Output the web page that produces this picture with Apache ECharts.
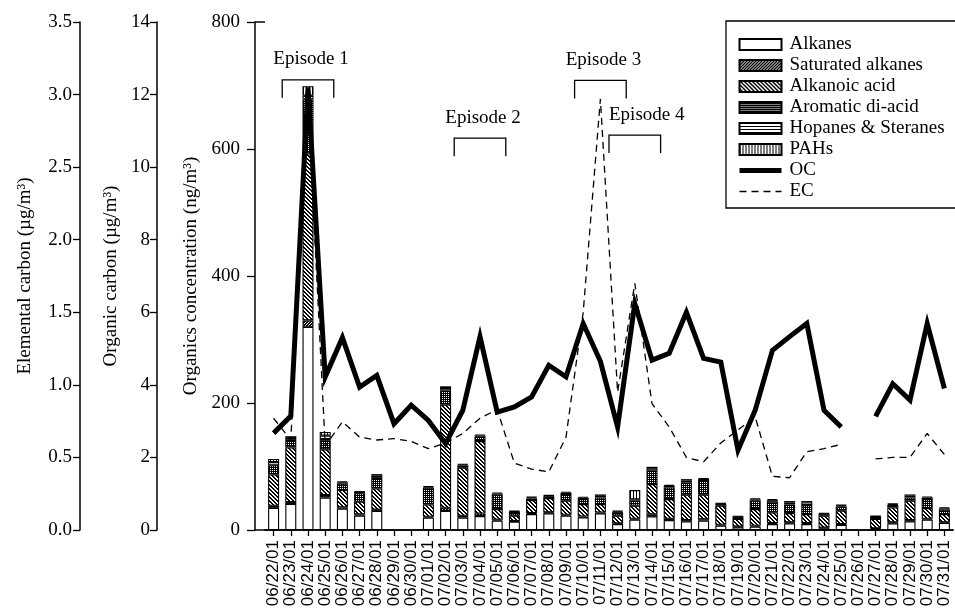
<!DOCTYPE html>
<html>
<head>
<meta charset="utf-8">
<script src="https://cdn.jsdelivr.net/npm/echarts@6/dist/echarts.min.js"></script>
<style>
  html, body { margin: 0; padding: 0; background: #fff; }
  #chart { width: 955px; height: 610px; }
</style>
</head>
<body>
<div id="chart"></div>
<script>
// Sampling days (one 24-h sample per day)
const days = [
  '06/22/01', '06/23/01', '06/24/01', '06/25/01', '06/26/01', '06/27/01', '06/28/01', '06/29/01', '06/30/01',
  '07/01/01', '07/02/01', '07/03/01', '07/04/01', '07/05/01', '07/06/01', '07/07/01', '07/08/01', '07/09/01',
  '07/10/01', '07/11/01', '07/12/01', '07/13/01', '07/14/01', '07/15/01', '07/16/01', '07/17/01', '07/18/01',
  '07/19/01', '07/20/01', '07/21/01', '07/22/01', '07/23/01', '07/24/01', '07/25/01', '07/26/01', '07/27/01',
  '07/28/01', '07/29/01', '07/30/01', '07/31/01'
];

// Organic compound classes, ng/m3 (null = no sample)
const alkanes = [35, 41, 320, 51, 33.5, 22.5, 30, null, null,
  19.4, 30, 19.4, 22, 14.7, 13.1, 25.1, 26.2, 22.5,
  19.9, 26.2, 9.4, 16.2, 21.5, 15.7, 13.6, 14.7, 6.8,
  4.2, 5.2, 9.4, 10.5, 9.4, 2.6, 7.9, null, 1.6,
  10.5, 13.6, 16.2, 11];
const saturatedAlkanes = [3, 3, 10, 4, 2, 2, 2, null, null,
  1.5, 5, 3, 4, 1.5, 1, 1.5, 1.5, 1.5,
  1.2, 1.2, 1, 1.5, 3, 2, 2, 2, 1.5,
  1, 1.5, 1.5, 1.5, 1.5, 1, 1.2, null, 1,
  1.5, 2, 1.5, 1];
const alkanoicAcid = [49.5, 86, 263, 72, 27.5, 20, 33.5, null, null,
  19.4, 162.5, 75.6, 114, 16.8, 8.4, 20.5, 22.6, 22.1,
  19.8, 13.5, 12.1, 20.5, 47.8, 31, 39.9, 38.8, 29.9,
  12.1, 26.3, 16.9, 14.7, 14.2, 18.9, 21.3, null, 14.7,
  23.6, 30.5, 16.9, 13.1];
const aromaticDiacid = [14.5, 12, 85, 14.5, 10, 13.5, 16.7, null, null,
  26.2, 22, 3.5, 6.8, 22.5, 5.8, 2.5, 2.5, 10.5,
  7.8, 10.4, 5.3, 7.9, 20.9, 18.3, 19.4, 23.1, 2.5,
  3, 13.1, 16.7, 13.6, 14.2, 2.5, 6.8, null, 3.5,
  3.7, 5.2, 14.1, 6.9];
const hopanesSteranes = [5, 3, 6, 7, 2, 2, 3.5, null, null,
  1.5, 4, 1.5, 2, 2, 1.2, 1.5, 1.2, 2,
  2, 2.5, 1.5, 2, 4, 2.5, 3, 1.8, 1,
  1, 2, 2.5, 3, 4, 1, 1.5, null, 1,
  1.5, 2.7, 2.5, 2];
const pahs = [5, 2.7, 15, 6, 1.5, 1.3, 2.3, null, null,
  1.1, 2.8, 1.2, 1.5, 1.7, 0.9, 1.3, 1, 1.6,
  1.7, 2.2, 1.1, 14.8, 2.3, 1.7, 2.2, 1.3, 0.7,
  0.7, 1.7, 1.7, 2.3, 2.3, 0.7, 1.1, null, 0.7,
  1.1, 2, 1.7, 1.6];

// Organic and elemental carbon, µg/m3
const ocValues = [2.67, 3.14, 12.2, 4.22, 5.3, 3.94, 4.26, 2.93, 3.44,
  3.02, 2.38, 3.3, 5.33, 3.25, 3.39, 3.67, 4.54, 4.22,
  5.69, 4.65, 2.84, 6.24, 4.68, 4.87, 6.0, 4.73, 4.63,
  2.2, 3.3, 4.95, 5.33, 5.69, 3.3, 2.84, null, 3.13,
  4.03, 3.58, 5.69, 3.9];
const ecValues = [0.77, 0.62, 2.95, 0.58, 0.745, 0.64, 0.62, 0.63, 0.61,
  0.56, 0.6, 0.665, 0.77, 0.83, 0.46, 0.42, 0.4, 0.64,
  1.5, 2.97, 0.95, 1.7, 0.87, 0.71, 0.5, 0.47, 0.6,
  0.69, 0.78, 0.37, 0.36, 0.54, 0.56, 0.59, null, 0.49,
  0.5, 0.5, 0.665, 0.52];

// Pollution episodes marked above the bars (level in ng/m3)
const episodes = [
  { label: 'Episode 1', from: '06/23/01', to: '06/25/01', level: 709 },
  { label: 'Episode 2', from: '07/03/01', to: '07/05/01', level: 617 },
  { label: 'Episode 3', from: '07/10/01', to: '07/12/01', level: 708 },
  { label: 'Episode 4', from: '07/12/01', to: '07/14/01', level: 622 }
];

// ---- layout and styling ----
const SERIF = '"Liberation Serif", "Times New Roman", Times, serif';
const SANS = '"Liberation Sans", Arial, Helvetica, sans-serif';
const W = 955, H = 610;
const GRID = { left: 265, right: 2, top: 22, bottom: 80 };
const MAIN_AXIS_OFFSET = 10;
const AXIS_LINE = { show: true, lineStyle: { color: '#000', width: 1.5 } };
const EPISODE_TEXT_ALIGN = { 'Episode 4': 'left' };
const LEGEND_BOX = { left: 726, top: 21, height: 187 };

// Small repeating fill tiles for the hatched bar segments
function hatch(w, h, ink) {
  const c = document.createElement('canvas');
  c.width = w; c.height = h;
  const ctx = c.getContext('2d');
  ctx.fillStyle = '#fff';
  ctx.fillRect(0, 0, w, h);
  const img = ctx.getImageData(0, 0, w, h);
  for (let y = 0; y < h; y++) {
    for (let x = 0; x < w; x++) {
      if (ink(x, y)) {
        const i = (y * w + x) * 4;
        img.data[i] = img.data[i + 1] = img.data[i + 2] = 0;
      }
    }
  }
  ctx.putImageData(img, 0, 0);
  return { image: c, repeat: 'repeat' };
}
const fills = {
  alkanes: '#fff',
  saturated: hatch(3, 3, (x, y) => (x + y) % 3 !== 0),          // dense '/'
  alkanoic: hatch(4, 4, (x, y) => ((x - y + 4) % 4) < 2),        // '\'
  aromatic: hatch(2, 2, (x, y) => !(x === 0 && y === 0)),        // dark stipple
  hopanes: hatch(4, 3, (x, y) => y === 0),                       // horizontal rules
  pahs: hatch(3, 4, (x, y) => x === 0)                           // vertical rules
};

function barSeries(name, data, fill) {
  return {
    name, type: 'bar', stack: 'organics', data,
    xAxisIndex: 0, yAxisIndex: 0, barWidth: 11,
    itemStyle: { color: fill, borderColor: '#000', borderWidth: 1.1 },
    emphasis: { disabled: true }, z: 2
  };
}

function sideAxis(opts) {
  return Object.assign({
    type: 'value', position: 'left', nameLocation: 'middle', nameRotate: 90,
    nameTextStyle: { fontFamily: SERIF, fontSize: 19, color: '#000' },
    axisLine: AXIS_LINE,
    axisTick: { show: true, inside: false, length: 7, lineStyle: { color: '#000', width: 1.3 } },
    axisLabel: { fontFamily: SERIF, fontSize: 19, color: '#000' },
    splitLine: { show: false }
  }, opts);
}

const chart = echarts.init(document.getElementById('chart'), null, { renderer: 'canvas' });

const option = {
  animation: false,
  backgroundColor: '#fff',
  grid: Object.assign({ containLabel: false, outerBoundsMode: 'none' }, GRID),
  legend: {
    orient: 'vertical', left: LEGEND_BOX.left, top: LEGEND_BOX.top,
    padding: [14, 10, 8, 11],
    itemWidth: 42, itemHeight: 11, itemGap: 2,
    selectedMode: false,
    textStyle: { fontFamily: SERIF, fontSize: 19, color: '#000', lineHeight: 16, padding: [0, 0, 0, 3] },
    data: [
      { name: 'Alkanes', icon: 'rect' },
      { name: 'Saturated alkanes', icon: 'rect' },
      { name: 'Alkanoic acid', icon: 'rect' },
      { name: 'Aromatic di-acid', icon: 'rect' },
      { name: 'Hopanes & Steranes', icon: 'rect' },
      { name: 'PAHs', icon: 'rect' },
      { name: 'OC', itemStyle: { opacity: 0 }, lineStyle: { color: '#000', width: 5 } },
      { name: 'EC', itemStyle: { opacity: 0 }, lineStyle: { color: '#000', width: 1.3, type: [7, 5] } }
    ],
    z: 10
  },
  xAxis: [
    {
      type: 'category', data: days, position: 'bottom', boundaryGap: true,
      axisLine: AXIS_LINE,
      axisTick: { show: true, alignWithLabel: true, length: 6, lineStyle: { color: '#000', width: 1.3 } },
      axisLabel: { interval: 0, rotate: 90, margin: 10, fontFamily: SANS, fontSize: 17, color: '#000' },
      splitLine: { show: false }
    },
    {
      type: 'category', data: days, position: 'top', boundaryGap: true,
      axisLine: AXIS_LINE, axisTick: { show: false }, axisLabel: { show: false }, splitLine: { show: false }
    }
  ],
  yAxis: [
    sideAxis({
      min: 0, max: 800, interval: 200, offset: MAIN_AXIS_OFFSET,
      name: 'Organics concentration (ng/m³)', nameGap: 54,
      axisTick: { show: true, length: 8, lineStyle: { color: '#000', width: 1.3 } },
      axisLabel: { fontFamily: SERIF, fontSize: 19, color: '#000', margin: 15 }
    }),
    sideAxis({
      min: 0, max: 14, interval: 2, offset: 108,
      name: 'Organic carbon (µg/m³)', nameGap: 31,
      axisLabel: { fontFamily: SERIF, fontSize: 19, color: '#000', margin: 7 }
    }),
    sideAxis({
      min: 0, max: 3.5, interval: 0.5, offset: 185,
      name: 'Elemental carbon (µg/m³)', nameGap: 45,
      axisLabel: { fontFamily: SERIF, fontSize: 19, color: '#000', margin: 8, formatter: v => v.toFixed(1) }
    })
  ],
  series: [
    barSeries('Alkanes', alkanes, fills.alkanes),
    barSeries('Saturated alkanes', saturatedAlkanes, fills.saturated),
    barSeries('Alkanoic acid', alkanoicAcid, fills.alkanoic),
    barSeries('Aromatic di-acid', aromaticDiacid, fills.aromatic),
    barSeries('Hopanes & Steranes', hopanesSteranes, fills.hopanes),
    barSeries('PAHs', pahs, fills.pahs),
    {
      name: 'OC', type: 'line', data: ocValues, xAxisIndex: 0, yAxisIndex: 1,
      symbol: 'none', connectNulls: false,
      lineStyle: { color: '#000', width: 5, join: 'miter' },
      itemStyle: { color: '#000' }, emphasis: { disabled: true }, z: 5
    },
    {
      name: 'EC', type: 'line', data: ecValues, xAxisIndex: 0, yAxisIndex: 2,
      symbol: 'none', connectNulls: false,
      lineStyle: { color: '#000', width: 1.3, type: [7, 5] },
      itemStyle: { color: '#000' }, emphasis: { disabled: true }, z: 4
    },
    {
      name: 'episodes', type: 'custom', xAxisIndex: 0, yAxisIndex: 0, silent: true, z: 6,
      data: episodes.map(e => [days.indexOf(e.from), days.indexOf(e.to), e.level]),
      encode: { x: [0, 1], y: 2 },
      renderItem(params, api) {
        const ep = episodes[params.dataIndex];
        const band = api.size([1, 0])[0];
        const a = api.coord([api.value(0), api.value(2)]);
        const b = api.coord([api.value(1), api.value(2)]);
        const x0 = a[0] - band / 2, x1 = b[0] + band / 2, y = a[1];
        const leg = 18;
        const align = EPISODE_TEXT_ALIGN[ep.label] || 'center';
        return {
          type: 'group',
          children: [
            {
              type: 'polyline',
              shape: { points: [[x0, y + leg], [x0, y], [x1, y], [x1, y + leg]] },
              style: { stroke: '#000', lineWidth: 1.3, fill: null }
            },
            {
              type: 'text',
              x: align === 'left' ? x0 : (x0 + x1) / 2 + 3,
              y: y - 11,
              style: {
                text: ep.label, fill: '#000', fontFamily: SERIF, fontSize: 19,
                align: align, verticalAlign: 'bottom'
              }
            }
          ]
        };
      }
    }
  ],
  graphic: [
    // legend frame, running on past the right edge of the page
    {
      type: 'rect', silent: true, z: 9,
      shape: { x: LEGEND_BOX.left, y: LEGEND_BOX.top, width: W, height: LEGEND_BOX.height },
      style: { stroke: '#000', lineWidth: 1.3, fill: '#fff' }
    },
    // carry the bottom and top frame lines back to the offset concentration axis
    {
      type: 'line', silent: true,
      shape: { x1: GRID.left - MAIN_AXIS_OFFSET, y1: H - GRID.bottom, x2: GRID.left, y2: H - GRID.bottom },
      style: { stroke: '#000', lineWidth: 1.5 }
    },
    {
      type: 'line', silent: true,
      shape: { x1: GRID.left - MAIN_AXIS_OFFSET, y1: GRID.top, x2: GRID.left, y2: GRID.top },
      style: { stroke: '#000', lineWidth: 1.5 }
    }
  ]
};

chart.setOption(option);
</script>
</body>
</html>
